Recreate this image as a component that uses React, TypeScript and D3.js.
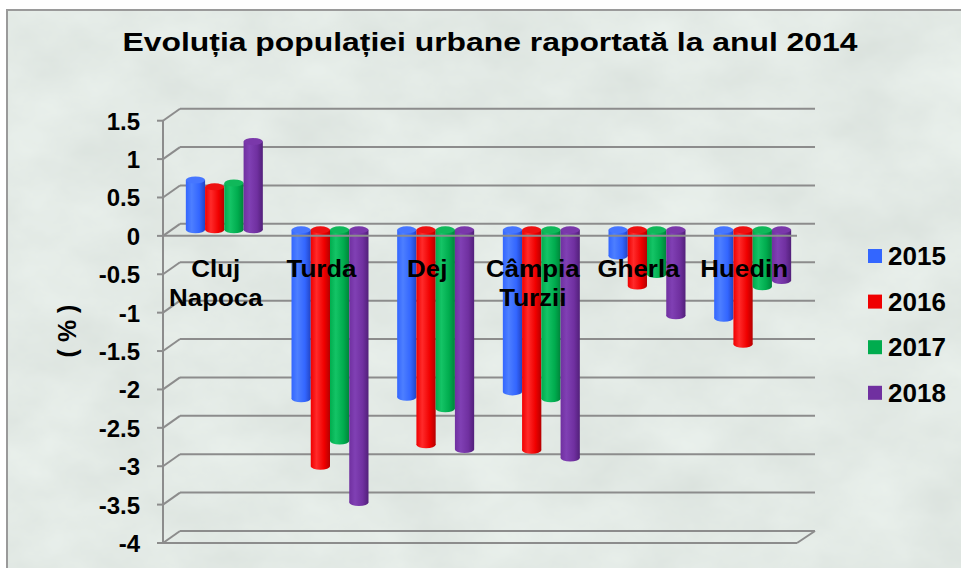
import React from 'react';
import * as d3 from 'd3';

const title = 'Evoluția populației urbane raportată la anul 2014';
const categories = ['Cluj Napoca', 'Turda', 'Dej', 'Câmpia Turzii', 'Gherla', 'Huedin'];
const categoryLines = [['Cluj', 'Napoca'], ['Turda'], ['Dej'], ['Câmpia', 'Turzii'], ['Gherla'], ['Huedin']];
const years = ['2015', '2016', '2017', '2018'];
const v2015 = [0.65, -2.2, -2.18, -2.11, -0.34, -1.15];
const v2016 = [0.56, -3.08, -2.8, -2.87, -0.73, -1.49];
const v2017 = [0.61, -2.75, -2.33, -2.2, -0.58, -0.74];
const v2018 = [1.15, -3.55, -2.86, -2.97, -1.12, -0.66];
const series = [v2015, v2016, v2017, v2018];
const yTicks = [1.5, 1, 0.5, 0, -0.5, -1, -1.5, -2, -2.5, -3, -3.5, -4];

// colour per year: base, light, dark, cap
const palette = [
  { light: '#4d7fff', base: '#3366ff', dark: '#2244c4', cap: '#4676ff' },
  { light: '#ff2a2a', base: '#f00000', dark: '#b50000', cap: '#ee1010' },
  { light: '#14c466', base: '#00ac4e', dark: '#00843a', cap: '#10b85a' },
  { light: '#8040b4', base: '#7030a0', dark: '#52207a', cap: '#7a38aa' },
];

const font = '"Liberation Sans", Arial, sans-serif';
const DX = 17; // depth offset of back wall
const DY = -12;

const App = () => {
  const x0 = 163;
  const x1 = 797;
  const x = d3.scaleBand<string>().domain(categories).range([x0, x1]);
  const xs = d3.scaleBand<string>().domain(years).range([0, x.bandwidth()]).paddingOuter(0.745);
  const y = d3.scaleLinear().domain([-4, 1.5]).range([543, 120.7]);
  const bw = xs.bandwidth();
  const ry = 3.5;

  const grid = '#8c8c8c';

  return (
    <svg width={961} height={568} style={{ position: 'absolute', left: 0, top: 0 }}>
      <defs>
        <filter id="marble" x="0" y="0" width="100%" height="100%">
          <feTurbulence type="fractalNoise" baseFrequency="0.011 0.016" numOctaves={5} seed={7} />
          <feColorMatrix
            type="matrix"
            values="0.15 0 0 0 0.69  0.15 0 0 0 0.745  0.15 0 0 0 0.71  0 0 0 0 1"
          />
        </filter>
        {palette.map((p, i) => (
          <linearGradient key={i} id={'cyl' + i} x1="0" x2="1" y1="0" y2="0">
            <stop offset="0%" stopColor={p.base} />
            <stop offset="30%" stopColor={p.light} />
            <stop offset="70%" stopColor={p.base} />
            <stop offset="100%" stopColor={p.dark} />
          </linearGradient>
        ))}
      </defs>

      <rect x={0} y={0} width={961} height={568} fill="#ffffff" />
      <rect x={7} y={10} width={970} height={570} filter="url(#marble)" />
      <rect x={7} y={10} width={970} height={570} fill="none" stroke="#9a9a9a" strokeWidth={2} />

      <text
        transform="translate(490,51) scale(1.25,1)"
        textAnchor="middle"
        fontFamily={font}
        fontWeight="bold"
        fontSize={25.5}
      >
        {title}
      </text>

      {/* walls and gridlines */}
      <g stroke={grid} strokeWidth={2} fill="none">
        {yTicks.map((t) => (
          <g key={t}>
            <line x1={x0 + DX} x2={815} y1={y(t) + DY} y2={y(t) + DY} />
            <line x1={x0} x2={x0 + DX} y1={y(t)} y2={y(t) + DY} />
            <line x1={x0 - 6} x2={x0} y1={y(t)} y2={y(t)} />
          </g>
        ))}
        <line x1={x0} x2={x0} y1={y(1.5)} y2={y(-4)} />
        <line x1={x0} x2={x1} y1={y(-4)} y2={y(-4)} />
        <line x1={x1} x2={815} y1={y(-4)} y2={y(-4) + DY} />
      </g>

      {yTicks.map((t) => (
        <text
          key={t}
          x={140}
          y={y(t) + 9}
          textAnchor="end"
          fontFamily={font}
          fontWeight="bold"
          fontSize={24}
        >
          {t}
        </text>
      ))}

      <text
        transform="translate(76,331) rotate(-90)"
        textAnchor="middle"
        fontFamily={font}
        fontWeight="bold"
        fontSize={25}
      >
        ( % )
      </text>

      {/* cylinders */}
      {categories.map((c, ci) => (
        <g key={c}>
          {series.map((vals, si) => {
            const v = vals[ci];
            const bx = (x(c) as number) + (xs(years[si]) as number) + DX / 2;
            const yz = y(0) + DY / 2;
            const yv = y(v) + DY / 2;
            const top = Math.min(yz, yv);
            const bottom = Math.max(yz, yv);
            const cx = bx + bw / 2;
            return (
              <g key={si}>
                <rect x={bx} y={top} width={bw} height={bottom - top} fill={`url(#cyl${si})`} />
                <ellipse cx={cx} cy={bottom} rx={bw / 2} ry={ry} fill={`url(#cyl${si})`} />
                <ellipse cx={cx} cy={top} rx={bw / 2} ry={ry} fill={palette[si].cap} />
              </g>
            );
          })}
        </g>
      ))}

      {/* floor edge at zero */}
      <line x1={x0} x2={x1} y1={y(0)} y2={y(0)} stroke={grid} strokeWidth={2} />

      {categories.map((c, ci) => (
        <text
          key={c}
          textAnchor="middle"
          fontFamily={font}
          fontWeight="bold"
          fontSize={24}
          transform={`translate(${(x(c) as number) + x.bandwidth() / 2},0) scale(1.08,1)`}
        >
          {categoryLines[ci].map((ln, li) => (
            <tspan key={li} x={0} y={277 + li * 29}>
              {ln}
            </tspan>
          ))}
        </text>
      ))}

      {years.map((yr, i) => (
        <g key={yr} transform={`translate(868,${256 + i * 45.6})`}>
          <rect x={0} y={-7} width={14} height={14} fill={palette[i].base} />
          <text x={20} y={9} fontFamily={font} fontWeight="bold" fontSize={26}>
            {yr}
          </text>
        </g>
      ))}
    </svg>
  );
};

export default App;
